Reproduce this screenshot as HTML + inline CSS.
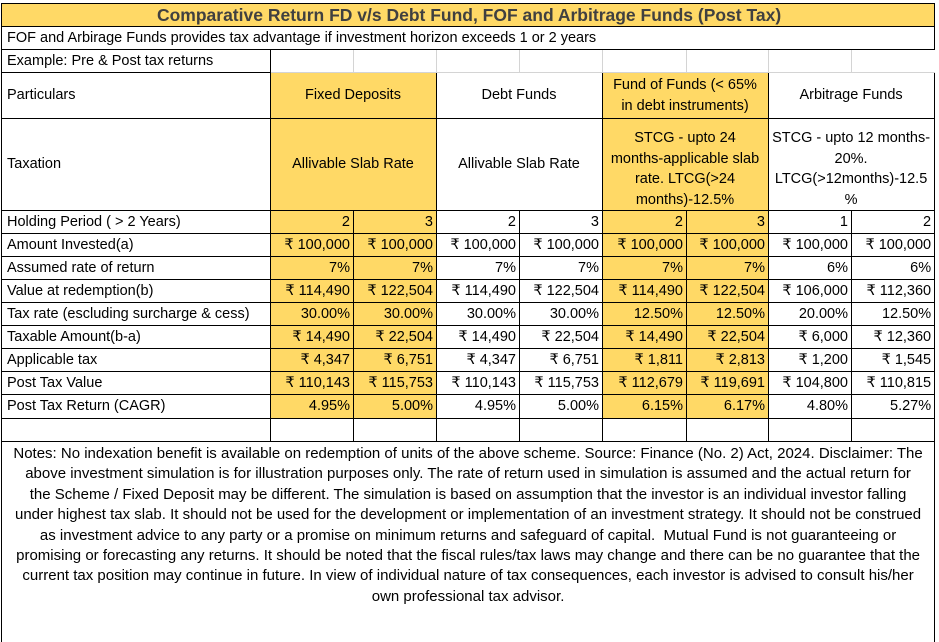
<!DOCTYPE html>
<html><head><meta charset="utf-8">
<style>
html,body{margin:0;padding:0;background:#fff;width:939px;height:632px;overflow:hidden}
body{font-family:"Liberation Sans",Arial,sans-serif;font-size:14.5px;color:#000}
table{position:absolute;left:1px;top:3px;border-collapse:collapse;table-layout:fixed;width:934px}
td{border:1px solid #000;padding:0 3px 0 2px;white-space:nowrap;overflow:hidden;line-height:17px}
td:first-child{padding-left:5px}
td.r{text-align:right}
td.c{text-align:center}
td.y{background:#FFD966}
td.g{border:1px solid #d4d4d4;border-top-color:#000}
.t{background:#FFD966;text-align:center;font-weight:bold;font-size:17.5px;color:#404040}
.w{white-space:nowrap;text-align:center;line-height:20.5px}
td.notes{white-space:nowrap;text-align:center;line-height:20.4px;vertical-align:top;padding:2px 0 0;border-bottom:none;font-size:15px}
</style></head><body>
<table>
<colgroup><col style="width:269px"><col style="width:83px"><col style="width:83px"><col style="width:83px"><col style="width:83px"><col style="width:84px"><col style="width:82px"><col style="width:83px"><col style="width:83px"></colgroup>
<tr style="height:23px"><td colspan="9" class="t">Comparative Return FD v/s Debt Fund, FOF and Arbitrage Funds (Post Tax)</td></tr>
<tr style="height:23px"><td colspan="9">FOF and Arbirage Funds provides tax advantage if investment horizon exceeds 1 or 2 years</td></tr>
<tr style="height:23px"><td>Example: Pre &amp; Post tax returns</td><td class="g"></td><td class="g"></td><td class="g"></td><td class="g"></td><td class="g"></td><td class="g"></td><td class="g"></td><td class="g" style="border-right-color:#fff"></td></tr>
<tr style="height:46px"><td>Particulars</td><td colspan="2" class="c y">Fixed Deposits</td><td colspan="2" class="c">Debt Funds</td><td colspan="2" class="y w">Fund of Funds (&lt; 65%<br>in debt instruments)</td><td colspan="2" class="c">Arbitrage Funds</td></tr>
<tr style="height:92px"><td>Taxation</td><td colspan="2" class="c y">Allivable Slab Rate</td><td colspan="2" class="c">Allivable Slab Rate</td><td colspan="2" class="y w" style="padding-top:9px;vertical-align:top">STCG - upto 24<br>months-applicable slab<br>rate. LTCG(&gt;24<br>months)-12.5%</td><td colspan="2" class="w" style="padding-top:9px;vertical-align:top">STCG - upto 12 months-<br>20%.<br>LTCG(&gt;12months)-12.5<br>%</td></tr>
<tr style="height:23px"><td>Holding Period ( &gt; 2 Years)</td><td class="r y">2</td><td class="r y">3</td><td class="r">2</td><td class="r">3</td><td class="r y">2</td><td class="r y">3</td><td class="r">1</td><td class="r">2</td></tr>
<tr style="height:23px"><td>Amount Invested(a)</td><td class="r y">₹ 100,000</td><td class="r y">₹ 100,000</td><td class="r">₹ 100,000</td><td class="r">₹ 100,000</td><td class="r y">₹ 100,000</td><td class="r y">₹ 100,000</td><td class="r">₹ 100,000</td><td class="r">₹ 100,000</td></tr>
<tr style="height:23px"><td>Assumed rate of return</td><td class="r y">7%</td><td class="r y">7%</td><td class="r">7%</td><td class="r">7%</td><td class="r y">7%</td><td class="r y">7%</td><td class="r">6%</td><td class="r">6%</td></tr>
<tr style="height:23px"><td>Value at redemption(b)</td><td class="r y">₹ 114,490</td><td class="r y">₹ 122,504</td><td class="r">₹ 114,490</td><td class="r">₹ 122,504</td><td class="r y">₹ 114,490</td><td class="r y">₹ 122,504</td><td class="r">₹ 106,000</td><td class="r">₹ 112,360</td></tr>
<tr style="height:23px"><td>Tax rate (escluding surcharge &amp; cess)</td><td class="r y">30.00%</td><td class="r y">30.00%</td><td class="r">30.00%</td><td class="r">30.00%</td><td class="r y">12.50%</td><td class="r y">12.50%</td><td class="r">20.00%</td><td class="r">12.50%</td></tr>
<tr style="height:23px"><td>Taxable Amount(b-a)</td><td class="r y">₹ 14,490</td><td class="r y">₹ 22,504</td><td class="r">₹ 14,490</td><td class="r">₹ 22,504</td><td class="r y">₹ 14,490</td><td class="r y">₹ 22,504</td><td class="r">₹ 6,000</td><td class="r">₹ 12,360</td></tr>
<tr style="height:23px"><td>Applicable tax</td><td class="r y">₹ 4,347</td><td class="r y">₹ 6,751</td><td class="r">₹ 4,347</td><td class="r">₹ 6,751</td><td class="r y">₹ 1,811</td><td class="r y">₹ 2,813</td><td class="r">₹ 1,200</td><td class="r">₹ 1,545</td></tr>
<tr style="height:23px"><td>Post Tax Value</td><td class="r y">₹ 110,143</td><td class="r y">₹ 115,753</td><td class="r">₹ 110,143</td><td class="r">₹ 115,753</td><td class="r y">₹ 112,679</td><td class="r y">₹ 119,691</td><td class="r">₹ 104,800</td><td class="r">₹ 110,815</td></tr>
<tr style="height:24px"><td>Post Tax Return (CAGR)</td><td class="r y">4.95%</td><td class="r y">5.00%</td><td class="r">4.95%</td><td class="r">5.00%</td><td class="r y">6.15%</td><td class="r y">6.17%</td><td class="r">4.80%</td><td class="r">5.27%</td></tr>
<tr style="height:23px"><td></td><td></td><td></td><td></td><td></td><td></td><td></td><td></td><td></td></tr>
<tr style="height:200px"><td colspan="9" class="notes">Notes: No indexation benefit is available on redemption of units of the above scheme. Source: Finance (No. 2) Act, 2024. Disclaimer: The<br>above investment simulation is for illustration purposes only. The rate of return used in simulation is assumed and the actual return for<br>the Scheme / Fixed Deposit may be different. The simulation is based on assumption that the investor is an individual investor falling<br>under highest tax slab. It should not be used for the development or implementation of an investment strategy. It should not be construed<br>as investment advice to any party or a promise on minimum returns and safeguard of capital.&nbsp; Mutual Fund is not guaranteeing or<br>promising or forecasting any returns. It should be noted that the fiscal rules/tax laws may change and there can be no guarantee that the<br>current tax position may continue in future. In view of individual nature of tax consequences, each investor is advised to consult his/her<br>own professional tax advisor.</td></tr>
</table>
</body></html>
